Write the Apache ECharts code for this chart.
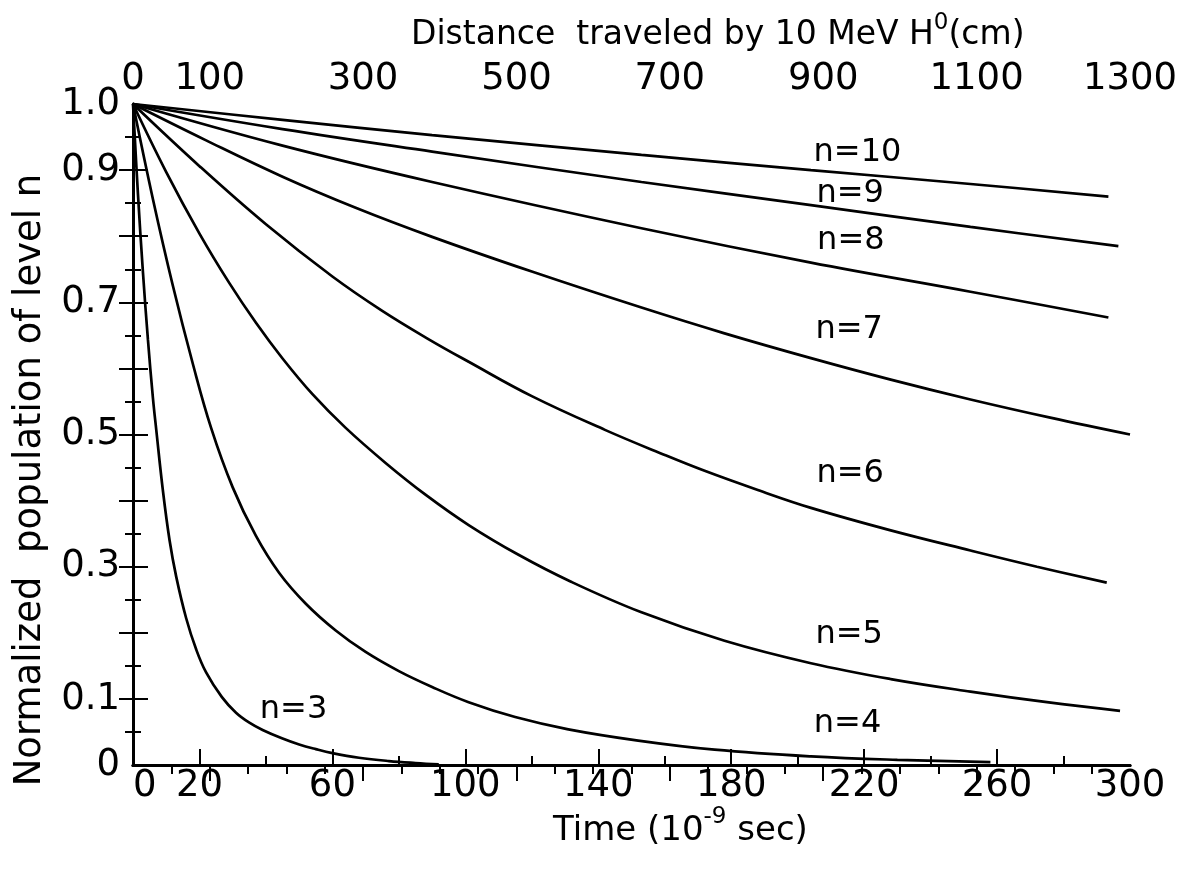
<!DOCTYPE html>
<html>
<head>
<meta charset="utf-8">
<script src="https://cdn.jsdelivr.net/npm/echarts@6/dist/echarts.min.js"></script>
<style>
html,body{margin:0;padding:0;background:#fff;}
#chart{width:1191px;height:871px;}
</style>
</head>
<body>
<div id="chart"></div>
<script>
// Time axis (10^-9 sec) and distance axis (cm)
const timeLabels = [0, 20, 60, 100, 140, 180, 220, 260, 300];
const timeMajorTicks = [20, 60, 100, 140, 180, 220, 260];
const timeMinorTicks = [40, 80, 120, 160, 200, 240, 280];
const distLabels = [0, 100, 300, 500, 700, 900, 1100, 1300];
const distMajorTicks = [100, 300, 500, 700, 900, 1100];
const distMinorTicks = [50, 150, 200, 250, 350, 400, 450, 550, 600, 650, 750, 800, 850, 950, 1000, 1050, 1150, 1200, 1250];
const popLabels = [0, 0.1, 0.3, 0.5, 0.7, 0.9, 1.0];
const popMajorTicks = [0.1, 0.2, 0.3, 0.4, 0.5, 0.6, 0.7, 0.8, 0.9];
const popMinorTicks = [0.05, 0.15, 0.25, 0.35, 0.45, 0.55, 0.65, 0.75, 0.85, 0.95];

// Normalized population of level n vs time
const n3 = [[0,1],[1.5,0.863],[3,0.745],[4.5,0.643],[6,0.555],[7,0.507],[9,0.415],[11,0.34],[13,0.285],[16,0.222],[19,0.175],[22,0.14],[26.7,0.103],[31,0.079],[35,0.064],[39,0.053],[45,0.04],[50,0.031],[55,0.024],[60,0.018],[68,0.011],[77,0.006],[85,0.003],[92,0.001]];
const n4 = [[0,1],[6,0.856],[12,0.725],[18,0.607],[23.5,0.51],[30,0.42],[37,0.3465],[44,0.2905],[52,0.244],[61,0.2035],[70,0.171],[80,0.142],[90,0.118],[101,0.095],[115,0.0726],[131,0.054],[152,0.037],[175,0.0232],[204,0.013],[230,0.0078],[258,0.0045]];
const n5 = [[0,1],[10,0.897],[20,0.804],[29,0.729],[37,0.669],[45,0.615],[54,0.561],[64,0.51],[76,0.457],[88,0.409],[101,0.363],[116,0.318],[131.5,0.278],[153,0.231],[178,0.188],[204,0.154],[228,0.13],[252,0.111],[275,0.095],[297,0.082]];
const n6 = [[0,1],[20,0.906],[40,0.818],[60,0.739],[75,0.687],[89,0.644],[101,0.61],[120,0.558],[142,0.507],[160,0.469],[172,0.445],[188,0.416],[204,0.389],[228,0.355],[252,0.3245],[272,0.300],[293,0.276]];
const n7 = [[0,1],[22,0.945],[45,0.89],[67,0.843],[90,0.799],[120,0.7465],[153,0.692],[178,0.653],[204,0.6155],[228,0.583],[252,0.553],[276,0.5255],[300,0.500]];
const n8 = [[0,1],[45,0.937],[90,0.882],[153,0.812],[204,0.760],[252,0.716],[293.5,0.677]];
const n9 = [[0,1],[45,0.962],[90,0.928],[153,0.882],[204,0.847],[252,0.814],[296.5,0.785]];
const n10 = [[0,1],[45,0.976],[90,0.953],[153,0.923],[204,0.900],[252,0.879],[293.5,0.860]];

const curveNames = ['n=3','n=4','n=5','n=6','n=7','n=8','n=9','n=10'];
const curveData = [n3, n4, n5, n6, n7, n8, n9, n10];
// label anchor points (time, population) for each curve label
const labelPos = [[48.3,0.083],[215,0.062],[215.5,0.197],[215.8,0.441],[215.5,0.659],[216,0.793],[215.8,0.864],[218,0.927]];

const FONT = 'DejaVu Sans';
const INK = '#000';

const chart = echarts.init(document.getElementById('chart'), null, {renderer:'canvas'});

function tickAxisCommon(extra){
  return Object.assign({
    type:'value', gridIndex:0, splitLine:{show:false}
  }, extra);
}

const option = {
  backgroundColor:'#fff',
  animation:false,
  grid:{left:133, right:61, top:104, bottom:106, containLabel:false},
  xAxis:[
    tickAxisCommon({position:'bottom', min:0, max:300,
      axisLine:{show:true, lineStyle:{color:INK, width:3}},
      axisTick:{show:true, inside:true, length:16, lineStyle:{color:INK, width:2}, customValues:timeMajorTicks},
      axisLabel:{show:true, customValues:timeLabels, fontFamily:FONT, fontSize:37, color:INK, margin:3, alignMinLabel:'left',
        formatter:function(v){ return String(v); }}
    }),
    tickAxisCommon({position:'bottom', min:0, max:300,
      axisLine:{show:false},
      axisTick:{show:true, inside:true, length:9, lineStyle:{color:INK, width:2}, customValues:timeMinorTicks},
      axisLabel:{show:false}
    }),
    tickAxisCommon({position:'top', min:0, max:1300,
      axisLine:{show:true, lineStyle:{color:INK, width:3}},
      axisTick:{show:true, inside:true, length:16, lineStyle:{color:INK, width:2}, customValues:distMajorTicks},
      axisLabel:{show:true, customValues:distLabels, fontFamily:FONT, fontSize:37, color:INK, margin:6,
        formatter:function(v){ return String(v); }}
    }),
    tickAxisCommon({position:'top', min:0, max:1300,
      axisLine:{show:false},
      axisTick:{show:true, inside:true, length:9, lineStyle:{color:INK, width:2}, customValues:distMinorTicks},
      axisLabel:{show:false}
    })
  ],
  yAxis:[
    tickAxisCommon({position:'left', min:0, max:1,
      axisLine:{show:true, lineStyle:{color:INK, width:3}},
      axisTick:{show:true, inside:true, length:15, lineStyle:{color:INK, width:2}, customValues:popMajorTicks},
      axisLabel:{show:true, customValues:popLabels, fontFamily:FONT, fontSize:37, color:INK, margin:13,
        formatter:function(v){ if(v===0) return '0'; if(v===1) return '1.0'; return v.toFixed(1); }}
    }),
    tickAxisCommon({position:'left', min:0, max:1,
      axisLine:{show:false},
      axisTick:{show:true, inside:true, length:8, lineStyle:{color:INK, width:2}, customValues:popMinorTicks},
      axisLabel:{show:false}
    }),
    tickAxisCommon({position:'right', min:0, max:1,
      axisLine:{show:true, lineStyle:{color:INK, width:3}},
      axisTick:{show:true, inside:true, length:14, lineStyle:{color:INK, width:2}, customValues:popMajorTicks},
      axisLabel:{show:false}
    }),
    tickAxisCommon({position:'right', min:0, max:1,
      axisLine:{show:false},
      axisTick:{show:true, inside:true, length:8, lineStyle:{color:INK, width:2}, customValues:popMinorTicks},
      axisLabel:{show:false}
    })
  ],
  series: curveData.map(function(d, i){
    return {
      type:'line', name:curveNames[i], xAxisIndex:0, yAxisIndex:0,
      data:d, smooth:0.4, showSymbol:false, symbol:'none',
      lineStyle:{color:INK, width:2.7}, clip:true, z:3
    };
  }).concat([{
    type:'scatter', xAxisIndex:0, yAxisIndex:0, symbolSize:0, z:4,
    data: labelPos.map(function(p, i){ return {name:curveNames[i], value:p}; }),
    label:{show:true, position:'inside', formatter:'{b}', fontFamily:FONT, fontSize:32, color:INK,
      textBorderWidth:0, opacity:1},
    itemStyle:{color:INK},
    silent:true
  }]),
  graphic:[
    {type:'text', left:411, top:12, style:{
      text:'{a|Distance  traveled by 10 MeV H}{s|0}{a|(cm)}',
      rich:{a:{fontFamily:FONT, fontSize:33, fill:INK, lineHeight:40, verticalAlign:'bottom'},
            s:{fontFamily:FONT, fontSize:23, fill:INK, lineHeight:40, verticalAlign:'top'}}
    }},
    {type:'text', left:553, top:806, style:{
      text:'{a|Time (10}{s|-9}{a| sec)}',
      rich:{a:{fontFamily:FONT, fontSize:34, fill:INK, lineHeight:42, verticalAlign:'bottom'},
            s:{fontFamily:FONT, fontSize:23, fill:INK, lineHeight:42, verticalAlign:'top'}}
    }},
    {type:'text', x:30, y:480, rotation:Math.PI/2, style:{
      text:'Normalized  population of level n', fontFamily:FONT, fontSize:37, fill:INK,
      align:'center', verticalAlign:'middle'
    }}
  ]
};
chart.setOption(option);
</script>
</body>
</html>
